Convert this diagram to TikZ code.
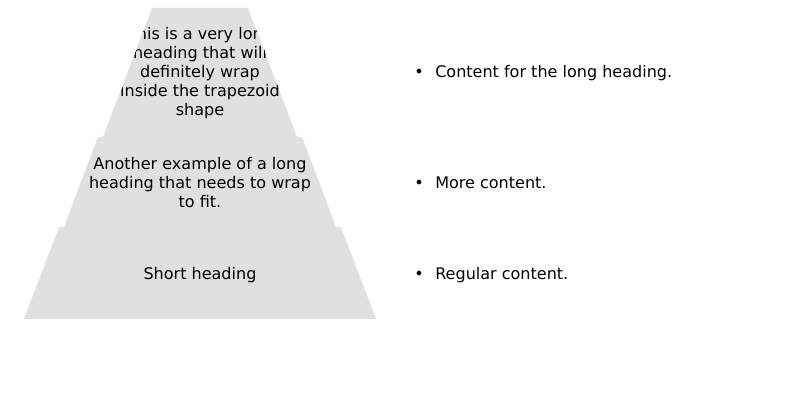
\documentclass[tikz,border=0pt]{standalone}
\usepackage{fontspec}
\setmainfont{DejaVu Sans}
\definecolor{tiergray}{RGB}{224,224,224}
\newcommand{\tierfont}{\fontsize{11.4pt}{13.5pt}\selectfont}
\begin{document}
\begin{tikzpicture}[
	  tier/.style={fill=tiergray},
	  heading/.style={align=center,inner sep=0pt,font=\tierfont},
	  item/.style={anchor=west,inner sep=0pt,font=\tierfont},
	  dot/.style={anchor=base,inner sep=0pt,font=\tierfont}]
	  \useasboundingbox (0,0) rectangle (20,-10);
	  % the three tiers of the pyramid
	  \fill[tier] (3.8,-0.2) -- (6.2,-0.2) -- (7.425,-3.425) -- (2.575,-3.425) -- cycle;
	  \fill[tier] (2.45,-3.425) -- (7.55,-3.425) -- (8.4,-5.675) -- (1.6,-5.675) -- cycle;
	  \fill[tier] (1.475,-5.675) -- (8.525,-5.675) -- (9.4,-7.975) -- (0.6,-7.975) -- cycle;
	  \begin{scope}
	    \clip (3.8,-0.2) -- (6.2,-0.2) -- (7.425,-3.425) -- (2.575,-3.425) -- cycle;
	    \node[heading] (h1) at (5,-1.825) {This is a very long\\heading that will\\definitely wrap\\inside the trapezoid\\shape};
	  \end{scope}
	  \node[heading] (h2) at (5,-4.575) {Another example of a long\\heading that needs to wrap\\to fit.};
	  \node[heading] (h3) at (5,-6.875) {Short heading};
	  % bullet list
	  \node[item] (c1) at (10.875,-1.825) {Content for the long heading.};
	  \node[item] (c2) at (10.875,-4.575) {More content.};
	  \node[item] (c3) at (10.875,-6.875) {Regular content.};
	  \node[dot] (b1) at ([xshift=-0.4cm]c1.base west) {•};
	  \node[dot] (b2) at ([xshift=-0.4cm]c2.base west) {•};
	  \node[dot] (b3) at ([xshift=-0.4cm]c3.base west) {•};
	\end{tikzpicture}
\end{document}
